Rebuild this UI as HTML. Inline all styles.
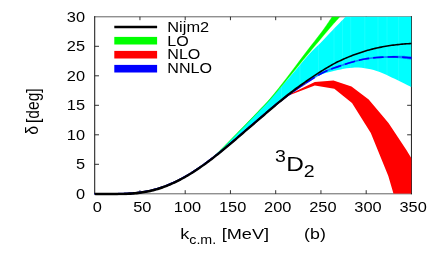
<!DOCTYPE html>
<html><head><meta charset="utf-8"><title>3D2</title>
<style>
html,body{margin:0;padding:0;background:#fff;}
body{width:436px;height:259px;overflow:hidden;}
svg{display:block;will-change:transform;opacity:0.999;font-family:"Liberation Sans",sans-serif;}
text{fill:#000;}
</style></head><body>
<svg width="436" height="259" viewBox="0 0 436 259">
<rect x="0" y="0" width="436" height="259" fill="#fff"/>
<defs><clipPath id="c"><rect x="94.70" y="16.80" width="316.75" height="177.00"/></clipPath><clipPath id="cc"><path d="M94.70,193.55 C96.37,193.56 101.37,193.59 104.70,193.60 C108.03,193.61 111.37,193.62 114.70,193.59 C118.03,193.56 121.37,193.54 124.70,193.40 C128.03,193.27 131.37,193.11 134.70,192.79 C138.03,192.47 141.37,192.07 144.70,191.48 C148.03,190.90 151.37,190.19 154.70,189.29 C158.03,188.39 161.37,187.32 164.70,186.08 C168.03,184.84 171.37,183.42 174.70,181.86 C178.03,180.29 181.37,178.55 184.70,176.67 C188.03,174.79 191.37,172.75 194.70,170.59 C198.03,168.43 201.10,166.42 204.70,163.71 C208.30,160.99 210.95,159.32 216.30,154.30 C221.65,149.28 229.90,140.63 236.80,133.60 C243.70,126.57 252.10,117.95 257.70,112.10 C263.30,106.25 265.18,104.18 270.40,98.50 C275.62,92.82 282.52,85.40 289.00,78.00 C295.48,70.60 303.90,60.10 309.30,54.10 C314.70,48.10 317.48,46.02 321.40,42.00 C325.32,37.98 328.72,34.25 332.80,30.00 C336.88,25.75 342.67,19.83 345.90,16.50 C349.13,13.17 351.15,11.08 352.20,10.00 L411.45,10.00 L411.45,87.18 C410.66,86.80 408.49,85.77 406.70,84.87 C404.91,83.97 402.70,82.80 400.70,81.78 C398.70,80.77 396.70,79.73 394.70,78.76 C392.70,77.79 390.70,76.86 388.70,75.96 C386.70,75.06 384.70,74.18 382.70,73.37 C380.70,72.56 378.70,71.77 376.70,71.10 C374.70,70.43 372.70,69.83 370.70,69.34 C368.70,68.85 366.70,68.46 364.70,68.17 C362.70,67.88 360.70,67.69 358.70,67.61 C356.70,67.53 354.70,67.56 352.70,67.68 C350.70,67.81 348.70,68.07 346.70,68.36 C344.70,68.66 342.70,69.07 340.70,69.46 C338.70,69.85 336.70,70.25 334.70,70.69 C332.70,71.14 330.70,71.59 328.70,72.14 C326.70,72.69 324.70,73.29 322.70,74.00 C320.70,74.70 318.70,75.49 316.70,76.39 C314.70,77.29 312.70,78.30 310.70,79.41 C308.70,80.51 306.70,81.76 304.70,83.04 C302.70,84.32 300.70,85.71 298.70,87.10 C296.70,88.50 294.70,89.94 292.70,91.42 C290.70,92.89 288.70,94.41 286.70,95.97 C284.70,97.52 282.70,99.13 280.70,100.76 C278.70,102.40 276.70,104.08 274.70,105.77 C272.70,107.46 270.70,109.17 268.70,110.89 C266.70,112.61 264.70,114.35 262.70,116.08 C260.70,117.80 258.70,119.52 256.70,121.23 C254.70,122.94 252.70,124.65 250.70,126.36 C248.70,128.07 246.70,129.78 244.70,131.50 C242.70,133.23 240.70,134.97 238.70,136.69 C236.70,138.42 234.70,140.15 232.70,141.85 C230.70,143.56 228.70,145.25 226.70,146.92 C224.70,148.59 222.70,150.25 220.70,151.87 C218.70,153.49 216.70,155.09 214.70,156.66 C212.70,158.22 210.70,159.76 208.70,161.26 C206.70,162.76 204.70,164.22 202.70,165.64 C200.70,167.06 198.70,168.44 196.70,169.77 C194.70,171.10 192.70,172.39 190.70,173.62 C188.70,174.86 186.70,176.04 184.70,177.17 C182.70,178.30 180.70,179.37 178.70,180.39 C176.70,181.41 174.70,182.38 172.70,183.28 C170.70,184.18 168.70,185.03 166.70,185.82 C164.70,186.60 162.70,187.33 160.70,187.99 C158.70,188.66 156.70,189.25 154.70,189.79 C152.70,190.33 150.70,190.80 148.70,191.22 C146.70,191.64 144.70,192.00 142.70,192.31 C140.70,192.62 138.70,192.88 136.70,193.09 C134.70,193.31 132.70,193.47 130.70,193.60 C128.70,193.74 126.70,193.83 124.70,193.90 C122.70,193.98 120.70,194.02 118.70,194.05 C116.70,194.08 114.70,194.09 112.70,194.10 C110.70,194.11 108.70,194.11 106.70,194.10 C104.70,194.10 102.70,194.09 100.70,194.08 C98.70,194.07 95.70,194.06 94.70,194.05 Z"/></clipPath><clipPath id="c2"><rect x="94.20" y="16.80" width="317.75" height="178.80"/></clipPath></defs>
<path d="M139.95,193.80 v-3.6 M139.95,16.80 v3.4 M185.20,193.80 v-3.6 M185.20,16.80 v3.4 M230.45,193.80 v-3.6 M230.45,16.80 v3.4 M275.70,193.80 v-3.6 M275.70,16.80 v3.4 M320.95,193.80 v-3.6 M320.95,16.80 v3.4 M366.20,193.80 v-3.6 M366.20,16.80 v3.4 M94.70,164.30 h4.3 M411.45,164.30 h-4.3 M94.70,134.80 h4.3 M411.45,134.80 h-4.3 M94.70,105.30 h4.3 M411.45,105.30 h-4.3 M94.70,75.80 h4.3 M411.45,75.80 h-4.3 M94.70,46.30 h4.3 M411.45,46.30 h-4.3 " stroke="#333" stroke-width="1" fill="none"/>
<path d="M94.70,16.30 V194.30" stroke="#1c1c1c" stroke-width="1.05" fill="none"/>
<path d="M411.45,16.30 V194.30" stroke="#262626" stroke-width="1.05" fill="none"/>
<path d="M94.20,16.80 H411.95 M94.20,193.80 H411.95" stroke="#000" stroke-opacity="0.62" stroke-width="1" fill="none"/>
<g clip-path="url(#c)">
<path d="M94.70,193.55 C96.37,193.56 101.37,193.59 104.70,193.60 C108.03,193.61 111.37,193.62 114.70,193.59 C118.03,193.56 121.37,193.54 124.70,193.40 C128.03,193.27 131.37,193.11 134.70,192.79 C138.03,192.47 141.37,192.07 144.70,191.48 C148.03,190.90 151.37,190.19 154.70,189.29 C158.03,188.39 161.37,187.32 164.70,186.08 C168.03,184.84 171.37,183.42 174.70,181.86 C178.03,180.29 181.37,178.55 184.70,176.67 C188.03,174.79 191.37,172.75 194.70,170.59 C198.03,168.43 201.10,166.42 204.70,163.71 C208.30,160.99 210.95,159.32 216.30,154.30 C221.65,149.28 229.90,140.63 236.80,133.60 C243.70,126.57 252.10,117.95 257.70,112.10 C263.30,106.25 265.18,104.18 270.40,98.50 C275.62,92.82 282.52,85.40 289.00,78.00 C295.48,70.60 303.90,60.10 309.30,54.10 C314.70,48.10 317.48,46.02 321.40,42.00 C325.32,37.98 328.72,34.25 332.80,30.00 C336.88,25.75 342.67,19.83 345.90,16.50 C349.13,13.17 351.15,11.08 352.20,10.00 L411.45,10.00 L411.45,87.18 C410.66,86.80 408.49,85.77 406.70,84.87 C404.91,83.97 402.70,82.80 400.70,81.78 C398.70,80.77 396.70,79.73 394.70,78.76 C392.70,77.79 390.70,76.86 388.70,75.96 C386.70,75.06 384.70,74.18 382.70,73.37 C380.70,72.56 378.70,71.77 376.70,71.10 C374.70,70.43 372.70,69.83 370.70,69.34 C368.70,68.85 366.70,68.46 364.70,68.17 C362.70,67.88 360.70,67.69 358.70,67.61 C356.70,67.53 354.70,67.56 352.70,67.68 C350.70,67.81 348.70,68.07 346.70,68.36 C344.70,68.66 342.70,69.07 340.70,69.46 C338.70,69.85 336.70,70.25 334.70,70.69 C332.70,71.14 330.70,71.59 328.70,72.14 C326.70,72.69 324.70,73.29 322.70,74.00 C320.70,74.70 318.70,75.49 316.70,76.39 C314.70,77.29 312.70,78.30 310.70,79.41 C308.70,80.51 306.70,81.76 304.70,83.04 C302.70,84.32 300.70,85.71 298.70,87.10 C296.70,88.50 294.70,89.94 292.70,91.42 C290.70,92.89 288.70,94.41 286.70,95.97 C284.70,97.52 282.70,99.13 280.70,100.76 C278.70,102.40 276.70,104.08 274.70,105.77 C272.70,107.46 270.70,109.17 268.70,110.89 C266.70,112.61 264.70,114.35 262.70,116.08 C260.70,117.80 258.70,119.52 256.70,121.23 C254.70,122.94 252.70,124.65 250.70,126.36 C248.70,128.07 246.70,129.78 244.70,131.50 C242.70,133.23 240.70,134.97 238.70,136.69 C236.70,138.42 234.70,140.15 232.70,141.85 C230.70,143.56 228.70,145.25 226.70,146.92 C224.70,148.59 222.70,150.25 220.70,151.87 C218.70,153.49 216.70,155.09 214.70,156.66 C212.70,158.22 210.70,159.76 208.70,161.26 C206.70,162.76 204.70,164.22 202.70,165.64 C200.70,167.06 198.70,168.44 196.70,169.77 C194.70,171.10 192.70,172.39 190.70,173.62 C188.70,174.86 186.70,176.04 184.70,177.17 C182.70,178.30 180.70,179.37 178.70,180.39 C176.70,181.41 174.70,182.38 172.70,183.28 C170.70,184.18 168.70,185.03 166.70,185.82 C164.70,186.60 162.70,187.33 160.70,187.99 C158.70,188.66 156.70,189.25 154.70,189.79 C152.70,190.33 150.70,190.80 148.70,191.22 C146.70,191.64 144.70,192.00 142.70,192.31 C140.70,192.62 138.70,192.88 136.70,193.09 C134.70,193.31 132.70,193.47 130.70,193.60 C128.70,193.74 126.70,193.83 124.70,193.90 C122.70,193.98 120.70,194.02 118.70,194.05 C116.70,194.08 114.70,194.09 112.70,194.10 C110.70,194.11 108.70,194.11 106.70,194.10 C104.70,194.10 102.70,194.09 100.70,194.08 C98.70,194.07 95.70,194.06 94.70,194.05 Z" fill="#00ffff"/>
<path d="M281.5,16.8 V193.8 M300.0,16.8 V193.8 M318.5,16.8 V193.8 M334.0,16.8 V193.8 M342.5,16.8 V193.8 M350.7,16.8 V193.8 M364.8,16.8 V193.8 M378.0,16.8 V193.8 M387.0,16.8 V193.8 M398.6,16.8 V193.8" stroke="#fff" stroke-opacity="0.14" stroke-width="0.7" fill="none" clip-path="url(#cc)"/>
<path d="M196.00,169.74 C197.67,168.57 202.62,165.30 206.00,162.71 C209.38,160.12 211.17,159.08 216.30,154.20 C221.43,149.32 229.90,140.45 236.80,133.40 C243.70,126.35 252.10,117.75 257.70,111.90 C263.30,106.05 265.58,103.95 270.40,98.30 C275.22,92.65 280.90,85.37 286.60,78.00 C292.30,70.63 298.52,62.10 304.60,54.10 C310.68,46.10 318.48,36.27 323.10,30.00 C327.72,23.73 330.05,19.83 332.30,16.50 C334.55,13.17 335.88,11.08 336.60,10.00 L346.00,10.00 C345.02,11.08 343.07,13.17 340.10,16.50 C337.13,19.83 333.53,23.73 328.20,30.00 C322.87,36.27 314.73,46.10 308.10,54.10 C301.47,62.10 294.53,70.63 288.40,78.00 C282.27,85.37 276.30,92.65 271.30,98.30 C266.30,103.95 264.07,106.05 258.40,111.90 C252.73,117.75 244.28,126.35 237.30,133.40 C230.32,140.45 221.72,149.31 216.50,154.20 C211.28,159.09 209.42,160.17 206.00,162.76 C202.58,165.35 197.67,168.57 196.00,169.74 Z" fill="#00ff00" stroke="#00ff00" stroke-width="0.35"/>
<path d="M264.00,114.15 L276.40,103.94 L288.00,95.06 L314.80,81.90 L333.50,80.60 L351.50,86.50 L368.70,99.40 L388.50,123.00 L406.40,150.10 L411.70,158.80 L411.45,193.80 L393.50,193.80 L388.30,176.00 L370.80,133.10 L352.00,103.10 L334.30,88.80 L314.80,85.50 L288.00,95.86 L276.40,104.44 L264.00,114.45 Z" fill="#ff0000"/>
</g>
<g clip-path="url(#c2)">
<path d="M94.70,193.85 C95.70,193.85 98.70,193.87 100.70,193.87 C102.70,193.88 104.70,193.89 106.70,193.89 C108.70,193.89 110.70,193.89 112.70,193.88 C114.70,193.86 116.70,193.85 118.70,193.82 C120.70,193.78 122.70,193.74 124.70,193.66 C126.70,193.58 128.70,193.49 130.70,193.35 C132.70,193.21 134.70,193.05 136.70,192.83 C138.70,192.62 140.70,192.36 142.70,192.05 C144.70,191.73 146.70,191.37 148.70,190.95 C150.70,190.53 152.70,190.06 154.70,189.52 C156.70,188.98 158.70,188.37 160.70,187.71 C162.70,187.05 164.70,186.32 166.70,185.53 C168.70,184.74 170.70,183.89 172.70,182.99 C174.70,182.08 176.70,181.12 178.70,180.10 C180.70,179.08 182.70,178.00 184.70,176.87 C186.70,175.74 188.70,174.56 190.70,173.33 C192.70,172.09 194.70,170.80 196.70,169.47 C198.70,168.14 200.70,166.76 202.70,165.34 C204.70,163.92 206.70,162.46 208.70,160.96 C210.70,159.46 212.70,157.92 214.70,156.36 C216.70,154.79 218.70,153.19 220.70,151.57 C222.70,149.95 224.70,148.29 226.70,146.62 C228.70,144.95 230.70,143.26 232.70,141.55 C234.70,139.85 236.70,138.12 238.70,136.39 C240.70,134.67 242.70,132.93 244.70,131.20 C246.70,129.48 248.70,127.77 250.70,126.06 C252.70,124.35 254.70,122.64 256.70,120.93 C258.70,119.22 260.70,117.50 262.70,115.78 C264.70,114.05 266.70,112.29 268.70,110.59 C270.70,108.89 272.70,107.20 274.70,105.56 C276.70,103.93 278.70,102.35 280.70,100.79 C282.70,99.23 284.70,97.71 286.70,96.22 C288.70,94.72 290.70,93.25 292.70,91.82 C294.70,90.38 296.70,88.94 298.70,87.60 C300.70,86.26 302.70,85.04 304.70,83.78 C306.70,82.51 308.70,81.28 310.70,80.01 C312.70,78.74 314.70,77.37 316.70,76.17 C318.70,74.96 320.70,73.82 322.70,72.78 C324.70,71.74 326.70,70.76 328.70,69.92 C330.70,69.08 332.70,68.45 334.70,67.75 C336.70,67.05 338.70,66.39 340.70,65.72 C342.70,65.05 344.70,64.36 346.70,63.73 C348.70,63.10 350.70,62.50 352.70,61.94 C354.70,61.38 356.70,60.85 358.70,60.37 C360.70,59.89 362.70,59.44 364.70,59.07 C366.70,58.70 368.70,58.40 370.70,58.15 C372.70,57.90 374.70,57.73 376.70,57.56 C378.70,57.40 380.70,57.28 382.70,57.17 C384.70,57.07 386.70,56.98 388.70,56.93 C390.70,56.88 392.70,56.85 394.70,56.88 C396.70,56.90 398.70,56.96 400.70,57.07 C402.70,57.17 404.91,57.35 406.70,57.51 C408.49,57.66 410.66,57.93 411.45,58.01" fill="none" stroke="#0000ff" stroke-width="1.9" opacity="0.2"/>
<path d="M94.70,193.85 L94.99,193.85 L95.35,193.85 L95.78,193.85 L96.26,193.86 L96.77,193.86 L97.33,193.86 L97.90,193.86 L98.48,193.86 L99.06,193.87 L99.63,193.87 L100.18,193.87 L100.70,193.87 L101.20,193.87 L101.70,193.87 L102.20,193.88 L102.70,193.88 L103.20,193.88 L103.70,193.88 L104.20,193.88 L104.70,193.88 L105.20,193.88 L105.70,193.89 L106.20,193.89 L106.70,193.89 L107.20,193.89 L107.70,193.89 L108.20,193.89 L108.70,193.89 L109.20,193.89 L109.70,193.89 L110.20,193.88 L110.70,193.88 L111.20,193.88 L111.70,193.88 L112.20,193.88 L112.70,193.88 L113.20,193.87 L113.70,193.87 L114.20,193.87 L114.70,193.86 L115.20,193.86 L115.70,193.85 L116.20,193.85 L116.70,193.84 L117.20,193.84 L117.70,193.83 L118.20,193.82 L118.70,193.82 L119.20,193.81 L119.70,193.80 L120.20,193.79 L120.70,193.78 L121.20,193.77 L121.70,193.75 L122.20,193.74 L122.70,193.73 L123.20,193.71 L123.70,193.70 L124.20,193.68 L124.70,193.66 L125.20,193.64 L125.70,193.62 L126.20,193.60 L126.70,193.58 L127.20,193.55 L127.70,193.53 L128.20,193.50 L128.70,193.48 L129.20,193.45 L129.70,193.42 L130.20,193.39 L130.70,193.35 L131.20,193.32 L131.70,193.28 L132.20,193.24 L132.70,193.21 L133.20,193.16 L133.70,193.12 L134.20,193.08 L134.70,193.03 L135.20,192.99 L135.70,192.94 L136.20,192.89 L136.70,192.83 L137.20,192.78 L137.70,192.72 L138.20,192.66 L138.70,192.60 L139.20,192.54 L139.70,192.48 L140.20,192.41 L140.70,192.34 L141.20,192.27 L141.70,192.20 L142.20,192.12 L142.70,192.05 L143.20,191.97 L143.70,191.88 L144.20,191.80 L144.70,191.72 L145.20,191.63 L145.70,191.54 L146.20,191.45 L146.70,191.35 L147.20,191.26 L147.70,191.16 L148.20,191.05 L148.70,190.95 L149.20,190.84 L149.70,190.74 L150.20,190.62 L150.70,190.51 L151.20,190.40 L151.70,190.28 L152.20,190.16 L152.70,190.03 L153.20,189.91 L153.70,189.78 L154.20,189.65 L154.70,189.52 L155.20,189.38 L155.70,189.24 L156.20,189.10 L156.70,188.96 L157.20,188.81 L157.70,188.66 L158.20,188.51 L158.70,188.35 L159.20,188.20 L159.70,188.04 L160.20,187.88 L160.70,187.71 L161.20,187.54 L161.70,187.37 L162.20,187.20 L162.70,187.02 L163.20,186.85 L163.70,186.67 L164.20,186.48 L164.70,186.30 L165.20,186.11 L165.70,185.92 L166.20,185.73 L166.70,185.53 L167.20,185.33 L167.70,185.13 L168.20,184.93 L168.70,184.72 L169.20,184.51 L169.70,184.30 L170.20,184.09 L170.70,183.87 L171.20,183.66 L171.70,183.44 L172.20,183.21 L172.70,182.99 L173.20,182.76 L173.70,182.53 L174.20,182.30 L174.70,182.06 L175.20,181.83 L175.70,181.59 L176.20,181.34 L176.70,181.10 L177.20,180.85 L177.70,180.60 L178.20,180.35 L178.70,180.10 L179.20,179.84 L179.70,179.58 L180.20,179.32 L180.70,179.06 L181.20,178.79 L181.70,178.53 L182.20,178.26 L182.70,177.98 L183.20,177.71 L183.70,177.43 L184.20,177.15 L184.70,176.87 L185.20,176.59 L185.70,176.30 L186.20,176.02 L186.70,175.73 L187.20,175.43 L187.70,175.14 L188.20,174.84 L188.70,174.54 L189.20,174.24 L189.70,173.94 L190.20,173.63 L190.70,173.33 L191.20,173.02 L191.70,172.70 L192.20,172.39 L192.70,172.07 L193.20,171.76 L193.70,171.44 L194.20,171.11 L194.70,170.79 L195.20,170.46 L195.70,170.14 L196.20,169.81 L196.70,169.47 L197.20,169.14 L197.70,168.80 L198.20,168.47 L198.70,168.13 L199.20,167.78 L199.70,167.44 L200.20,167.09 L200.70,166.75 L201.20,166.40 L201.70,166.05 L202.20,165.70 L202.70,165.34 L203.20,164.99 L203.70,164.63 L204.20,164.27 L204.70,163.91 L205.20,163.54 L205.70,163.18 L206.20,162.81 L206.70,162.44 L207.20,162.08 L207.70,161.70 L208.20,161.33 L208.70,160.96 L209.20,160.58 L209.70,160.21 L210.20,159.83 L210.70,159.45 L211.20,159.07 L211.70,158.68 L212.20,158.30 L212.70,157.91 L213.20,157.53 L213.70,157.14 L214.20,156.75 L214.70,156.36 L215.20,155.96 L215.70,155.57 L216.20,155.18 L216.70,154.78 L217.20,154.38 L217.70,153.98 L218.20,153.58 L218.70,153.18 L219.20,152.78 L219.70,152.38 L220.20,151.97 L220.70,151.57 L221.20,151.16 L221.70,150.75 L222.20,150.35 L222.70,149.94 L223.20,149.52 L223.70,149.11 L224.20,148.70 L224.70,148.29 L225.20,147.87 L225.70,147.46 L226.20,147.04 L226.70,146.62 L227.20,146.21 L227.70,145.79 L228.20,145.37 L228.70,144.95 L229.20,144.52 L229.70,144.10 L230.20,143.68 L230.70,143.26 L231.20,142.83 L231.70,142.41 L232.20,141.98 L232.70,141.55 L233.20,141.13 L233.70,140.70 L234.20,140.27 L234.70,139.84 L235.20,139.41 L235.70,138.98 L236.20,138.55 L236.70,138.12 L237.20,137.69 L237.70,137.26 L238.20,136.82 L238.70,136.39 L239.20,135.96 L239.70,135.53 L240.20,135.10 L240.70,134.66 L241.20,134.23 L241.70,133.80 L242.20,133.36 L242.70,132.93 L243.20,132.50 L243.70,132.07 L244.20,131.63 L244.70,131.20 L245.20,130.77 L245.70,130.34 L246.20,129.91 L246.70,129.49 L247.20,129.06 L247.70,128.63 L248.20,128.20 L248.70,127.77 L249.20,127.34 L249.70,126.92 L250.20,126.49 L250.70,126.06 L251.20,125.63 L251.70,125.21 L252.20,124.78 L252.70,124.35 L253.20,123.92 L253.70,123.50 L254.20,123.07 L254.70,122.64 L255.20,122.21 L255.70,121.79 L256.20,121.36 L256.70,120.93 L257.20,120.50 L257.70,120.07 L258.20,119.64 L258.70,119.22 L259.20,118.79 L259.70,118.36 L260.20,117.93 L260.70,117.50 L261.20,117.07 L261.70,116.64 L262.20,116.21 L262.70,115.78 L263.20,115.34 L263.70,114.91 L264.20,114.48 L264.70,114.04 L265.20,113.61 L265.70,113.17 L266.20,112.74 L266.70,112.31 L267.20,111.87 L267.70,111.44 L268.20,111.01 L268.70,110.59 L269.20,110.16 L269.70,109.74 L270.20,109.31 L270.70,108.89 L271.20,108.47 L271.70,108.05 L272.20,107.63 L272.70,107.21 L273.20,106.80 L273.70,106.38 L274.20,105.97 L274.70,105.56 L275.20,105.16 L275.70,104.75 L276.20,104.35 L276.70,103.95 L277.20,103.55 L277.70,103.15 L278.20,102.75 L278.70,102.36 L279.20,101.96 L279.70,101.57 L280.20,101.18 L280.70,100.79 L281.20,100.40 L281.70,100.01 L282.20,99.63 L282.70,99.24 L283.20,98.86 L283.70,98.48 L284.20,98.10 L284.70,97.72 L285.20,97.34 L285.70,96.97 L286.20,96.59 L286.70,96.22 L287.20,95.84 L287.70,95.47 L288.20,95.10 L288.70,94.73 L289.20,94.36 L289.70,94.00 L290.20,93.63 L290.70,93.26 L291.20,92.90 L291.70,92.54 L292.20,92.18 L292.70,91.82 L293.20,91.46 L293.70,91.10 L294.20,90.74 L294.70,90.38 L295.20,90.03 L295.70,89.67 L296.20,89.32 L296.70,88.97 L297.20,88.62 L297.70,88.27 L298.20,87.93 L298.70,87.60 L299.20,87.26 L299.70,86.94 L300.20,86.61 L300.70,86.29 L301.20,85.97 L301.70,85.66 L302.20,85.35 L302.70,85.03 L303.20,84.72 L303.70,84.41 L304.20,84.09 L304.70,83.78 L305.20,83.46 L305.70,83.15" fill="none" stroke="#0000a0" stroke-width="1.9" opacity="0.75"/>
<path d="M300.20,85.91 L300.70,85.59 L301.20,85.27 L301.70,84.96 L302.20,84.65 L302.70,84.33 L303.20,84.02 L303.70,83.71 L304.20,83.39 L304.70,83.08 L305.20,82.76 L305.70,82.45 L306.20,82.13 L306.70,81.82 L307.20,81.51 L307.70,81.20 L308.20,80.88 L308.70,80.57 L309.20,80.26 L309.70,79.94 L310.20,79.63 L310.70,79.31 L311.20,78.99 L311.70,78.67 L312.20,78.35 L312.70,78.02 L313.20,77.69 L313.70,77.37 L314.20,77.04 L314.70,76.72 L315.20,76.40 L315.70,76.08 L316.20,75.77 L316.70,75.47 L317.20,75.17 L317.70,74.87 L318.20,74.58 L318.70,74.28 L319.20,74.00 L319.70,73.71 L320.20,73.43 L320.70,73.15 L321.20,72.88 L321.70,72.61 L322.20,72.34 L322.70,72.08 L323.20,71.82 L323.70,71.56 L324.20,71.31 L324.70,71.06 L325.20,70.81 L325.70,70.57 L326.20,70.34 L326.70,70.10 L327.20,69.87 L327.70,69.65 L328.20,69.43 L328.70,69.22 L329.20,69.01 L329.70,68.82 L330.20,68.63 L330.70,68.44 L331.20,68.26 L331.70,68.08 L332.20,67.91 L332.70,67.74 L333.20,67.56 L333.70,67.39 L334.20,67.22 L334.70,67.05 L335.20,66.87 L335.70,66.70 L336.20,66.53 L336.70,66.36 L337.20,66.19 L337.70,66.02 L338.20,65.86 L338.70,65.69 L339.20,65.52 L339.70,65.36 L340.20,65.19 L340.70,65.02 L341.20,64.86 L341.70,64.69 L342.20,64.52 L342.70,64.35 L343.20,64.18 L343.70,64.01 L344.20,63.84 L344.70,63.67 L345.20,63.51 L345.70,63.35 L346.20,63.18 L346.70,63.03 L347.20,62.87 L347.70,62.71 L348.20,62.56 L348.70,62.41 L349.20,62.26 L349.70,62.11 L350.20,61.96 L350.70,61.81 L351.20,61.67 L351.70,61.53 L352.20,61.38 L352.70,61.24 L353.20,61.10 L353.70,60.97 L354.20,60.83 L354.70,60.69 L355.20,60.56 L355.70,60.43 L356.20,60.30 L356.70,60.17 L357.20,60.04 L357.70,59.92 L358.20,59.79 L358.70,59.67 L359.20,59.55 L359.70,59.44 L360.20,59.32 L360.70,59.20 L361.20,59.09 L361.70,58.98 L362.20,58.87 L362.70,58.77 L363.20,58.67 L363.70,58.56 L364.20,58.47 L364.70,58.37 L365.20,58.28 L365.70,58.19 L366.20,58.11 L366.70,58.02 L367.20,57.94 L367.70,57.87 L368.20,57.79 L368.70,57.72 L369.20,57.65 L369.70,57.58 L370.20,57.51 L370.70,57.45 L371.20,57.39 L371.70,57.33 L372.20,57.27 L372.70,57.22 L373.20,57.17 L373.70,57.12 L374.20,57.08 L374.70,57.03 L375.20,56.99 L375.70,56.94 L376.20,56.90 L376.70,56.86 L377.20,56.82 L377.70,56.78 L378.20,56.75 L378.70,56.71 L379.20,56.68 L379.70,56.65 L380.20,56.61 L380.70,56.58 L381.20,56.55 L381.70,56.53 L382.20,56.50 L382.70,56.47 L383.20,56.45 L383.70,56.42 L384.20,56.40 L384.70,56.37 L385.20,56.34 L385.70,56.30 L386.20,56.26 L386.70,56.22 L387.20,56.18 L387.70,56.15 L388.20,56.11 L388.70,56.08 L389.20,56.05 L389.70,56.02 L390.20,55.99 L390.70,55.96 L391.20,55.93 L391.70,55.91 L392.20,55.88 L392.70,55.86 L393.20,55.84 L393.70,55.82 L394.20,55.81 L394.70,55.79 L395.20,55.78 L395.70,55.77 L396.20,55.76 L396.70,55.75 L397.20,55.74 L397.70,55.74 L398.20,55.73 L398.70,55.73 L399.20,55.73 L399.70,55.74 L400.20,55.74 L400.70,55.74 L401.20,55.75 L401.71,55.76 L402.23,55.77 L402.75,55.79 L403.26,55.81 L403.78,55.82 L404.29,55.84 L404.79,55.86 L405.29,55.88 L405.77,55.90 L406.24,55.93 L406.70,55.95 L407.15,55.97 L407.62,56.00 L408.09,56.03 L408.55,56.06 L409.01,56.09 L409.45,56.12 L409.87,56.15 L410.26,56.18 L410.63,56.20 L410.95,56.23 L411.22,56.25 L411.45,56.26 L411.45,59.76 L411.22,59.73 L410.95,59.68 L410.63,59.63 L410.26,59.58 L409.87,59.52 L409.45,59.46 L409.01,59.39 L408.55,59.32 L408.09,59.25 L407.62,59.19 L407.15,59.13 L406.70,59.07 L406.24,59.01 L405.77,58.95 L405.29,58.89 L404.79,58.83 L404.29,58.77 L403.78,58.71 L403.26,58.65 L402.75,58.60 L402.23,58.54 L401.71,58.49 L401.20,58.44 L400.70,58.39 L400.20,58.34 L399.70,58.30 L399.20,58.26 L398.70,58.22 L398.20,58.18 L397.70,58.14 L397.20,58.11 L396.70,58.08 L396.20,58.04 L395.70,58.01 L395.20,57.99 L394.70,57.96 L394.20,57.94 L393.70,57.91 L393.20,57.89 L392.70,57.87 L392.20,57.85 L391.70,57.84 L391.20,57.82 L390.70,57.81 L390.20,57.80 L389.70,57.79 L389.20,57.78 L388.70,57.77 L388.20,57.77 L387.70,57.76 L387.20,57.76 L386.70,57.76 L386.20,57.75 L385.70,57.76 L385.20,57.76 L384.70,57.77 L384.20,57.80 L383.70,57.82 L383.20,57.85 L382.70,57.87 L382.20,57.90 L381.70,57.93 L381.20,57.95 L380.70,57.98 L380.20,58.01 L379.70,58.05 L379.20,58.08 L378.70,58.11 L378.20,58.15 L377.70,58.18 L377.20,58.22 L376.70,58.26 L376.20,58.30 L375.70,58.34 L375.20,58.39 L374.70,58.43 L374.20,58.48 L373.70,58.52 L373.20,58.57 L372.70,58.62 L372.20,58.67 L371.70,58.73 L371.20,58.79 L370.70,58.85 L370.20,58.91 L369.70,58.98 L369.20,59.05 L368.70,59.12 L368.20,59.19 L367.70,59.27 L367.20,59.34 L366.70,59.42 L366.20,59.51 L365.70,59.59 L365.20,59.68 L364.70,59.77 L364.20,59.87 L363.70,59.96 L363.20,60.07 L362.70,60.17 L362.20,60.27 L361.70,60.38 L361.20,60.49 L360.70,60.60 L360.20,60.72 L359.70,60.84 L359.20,60.95 L358.70,61.07 L358.20,61.19 L357.70,61.32 L357.20,61.44 L356.70,61.57 L356.20,61.70 L355.70,61.83 L355.20,61.96 L354.70,62.09 L354.20,62.23 L353.70,62.37 L353.20,62.50 L352.70,62.64 L352.20,62.78 L351.70,62.93 L351.20,63.07 L350.70,63.21 L350.20,63.36 L349.70,63.51 L349.20,63.66 L348.70,63.81 L348.20,63.96 L347.70,64.11 L347.20,64.27 L346.70,64.43 L346.20,64.58 L345.70,64.75 L345.20,64.91 L344.70,65.07 L344.20,65.24 L343.70,65.41 L343.20,65.58 L342.70,65.75 L342.20,65.92 L341.70,66.09 L341.20,66.26 L340.70,66.42 L340.20,66.59 L339.70,66.76 L339.20,66.92 L338.70,67.09 L338.20,67.26 L337.70,67.42 L337.20,67.59 L336.70,67.76 L336.20,67.93 L335.70,68.10 L335.20,68.27 L334.70,68.45 L334.20,68.62 L333.70,68.79 L333.20,68.96 L332.70,69.14 L332.20,69.31 L331.70,69.48 L331.20,69.66 L330.70,69.84 L330.20,70.03 L329.70,70.22 L329.20,70.41 L328.70,70.62 L328.20,70.83 L327.70,71.05 L327.20,71.27 L326.70,71.50 L326.20,71.74 L325.70,71.97 L325.20,72.21 L324.70,72.46 L324.20,72.71 L323.70,72.96 L323.20,73.22 L322.70,73.48 L322.20,73.74 L321.70,74.01 L321.20,74.28 L320.70,74.55 L320.20,74.83 L319.70,75.11 L319.20,75.40 L318.70,75.68 L318.20,75.98 L317.70,76.27 L317.20,76.57 L316.70,76.87 L316.20,77.17 L315.70,77.48 L315.20,77.80 L314.70,78.12 L314.20,78.44 L313.70,78.77 L313.20,79.09 L312.70,79.42 L312.20,79.75 L311.70,80.07 L311.20,80.39 L310.70,80.71 L310.20,81.03 L309.70,81.34 L309.20,81.66 L308.70,81.97 L308.20,82.28 L307.70,82.60 L307.20,82.91 L306.70,83.22 L306.20,83.53 L305.70,83.85 L305.20,84.16 L304.70,84.48 L304.20,84.79 L303.70,85.11 L303.20,85.42 L302.70,85.73 L302.20,86.05 L301.70,86.36 L301.20,86.67 L300.70,86.99 L300.20,87.31 Z" fill="#0000ff" opacity="0.35"/>
<path d="M94.70,193.85 C95.70,193.85 98.70,193.87 100.70,193.87 C102.70,193.88 104.70,193.89 106.70,193.89 C108.70,193.89 110.70,193.89 112.70,193.88 C114.70,193.86 116.70,193.85 118.70,193.82 C120.70,193.78 122.70,193.74 124.70,193.66 C126.70,193.58 128.70,193.49 130.70,193.35 C132.70,193.21 134.70,193.05 136.70,192.83 C138.70,192.62 140.70,192.36 142.70,192.05 C144.70,191.73 146.70,191.37 148.70,190.95 C150.70,190.53 152.70,190.06 154.70,189.52 C156.70,188.98 158.70,188.37 160.70,187.71 C162.70,187.05 164.70,186.32 166.70,185.53 C168.70,184.74 170.70,183.89 172.70,182.99 C174.70,182.08 176.70,181.12 178.70,180.10 C180.70,179.08 182.70,178.00 184.70,176.87 C186.70,175.74 188.70,174.56 190.70,173.33 C192.70,172.09 194.70,170.80 196.70,169.47 C198.70,168.14 200.70,166.76 202.70,165.34 C204.70,163.92 206.70,162.46 208.70,160.96 C210.70,159.46 212.70,157.92 214.70,156.36 C216.70,154.79 218.70,153.19 220.70,151.57 C222.70,149.95 224.70,148.29 226.70,146.62 C228.70,144.95 230.70,143.26 232.70,141.55 C234.70,139.85 236.70,138.12 238.70,136.39 C240.70,134.67 242.70,132.93 244.70,131.20 C246.70,129.48 248.70,127.77 250.70,126.06 C252.70,124.35 254.70,122.64 256.70,120.93 C258.70,119.22 260.70,117.50 262.70,115.78 C264.70,114.05 266.70,112.29 268.70,110.59 C270.70,108.89 272.70,107.20 274.70,105.56 C276.70,103.93 278.70,102.35 280.70,100.79 C282.70,99.23 284.70,97.71 286.70,96.22 C288.70,94.72 290.70,93.25 292.70,91.82 C294.70,90.38 296.70,88.94 298.70,87.60 C300.70,86.26 302.70,85.04 304.70,83.78 C306.70,82.51 308.70,81.28 310.70,80.01 C312.70,78.74 314.70,77.37 316.70,76.17 C318.70,74.96 320.70,73.82 322.70,72.78 C324.70,71.74 326.70,70.76 328.70,69.92 C330.70,69.08 332.70,68.45 334.70,67.75 C336.70,67.05 338.70,66.39 340.70,65.72 C342.70,65.05 344.70,64.36 346.70,63.73 C348.70,63.10 350.70,62.50 352.70,61.94 C354.70,61.38 356.70,60.85 358.70,60.37 C360.70,59.89 362.70,59.44 364.70,59.07 C366.70,58.70 368.70,58.40 370.70,58.15 C372.70,57.90 374.70,57.73 376.70,57.56 C378.70,57.40 380.70,57.28 382.70,57.17 C384.70,57.07 386.70,56.98 388.70,56.93 C390.70,56.88 392.70,56.85 394.70,56.88 C396.70,56.90 398.70,56.96 400.70,57.07 C402.70,57.17 404.91,57.35 406.70,57.51 C408.49,57.66 410.66,57.93 411.45,58.01" fill="none" stroke="#0000ff" stroke-width="1.6" stroke-dasharray="10.5 4"/>
<path d="M94.69,195.37 L96.19,195.38 L97.69,195.39 L99.19,195.40 L100.69,195.41 L102.19,195.41 L103.69,195.42 L105.20,195.42 L106.70,195.43 L108.20,195.43 L109.70,195.43 L111.20,195.43 L112.71,195.43 L114.21,195.42 L115.71,195.41 L117.22,195.39 L118.72,195.37 L120.23,195.35 L121.73,195.32 L123.24,195.28 L124.75,195.23 L126.26,195.17 L127.77,195.10 L129.28,195.02 L130.79,194.93 L132.30,194.82 L133.81,194.70 L135.33,194.56 L136.84,194.41 L138.36,194.24 L139.87,194.05 L141.39,193.84 L142.90,193.61 L144.42,193.36 L145.93,193.09 L147.45,192.80 L148.96,192.49 L150.48,192.15 L152.00,191.80 L153.51,191.42 L155.03,191.02 L156.54,190.59 L158.06,190.14 L159.58,189.67 L161.09,189.17 L162.61,188.65 L164.12,188.11 L165.63,187.54 L167.15,186.95 L168.66,186.34 L170.17,185.70 L171.68,185.05 L173.19,184.37 L174.70,183.67 L176.21,182.94 L177.72,182.20 L179.23,181.44 L180.74,180.65 L182.25,179.84 L183.76,179.02 L185.26,178.17 L186.77,177.30 L188.28,176.41 L189.78,175.51 L191.29,174.58 L192.80,173.64 L194.31,172.68 L195.82,171.71 L197.32,170.71 L198.83,169.70 L200.34,168.67 L201.85,167.62 L203.35,166.56 L204.86,165.48 L206.36,164.39 L207.87,163.28 L209.37,162.16 L210.88,161.02 L212.38,159.88 L213.89,158.71 L215.39,157.54 L216.90,156.36 L218.40,155.16 L219.91,153.96 L221.41,152.74 L222.91,151.52 L224.42,150.28 L225.92,149.04 L227.42,147.79 L228.92,146.53 L230.43,145.26 L231.93,143.99 L233.43,142.71 L234.93,141.43 L236.43,140.14 L237.94,138.84 L239.44,137.54 L240.94,136.24 L242.44,134.94 L243.93,133.65 L245.43,132.36 L246.93,131.07 L248.43,129.78 L249.93,128.50 L251.43,127.22 L252.93,125.93 L254.43,124.65 L255.93,123.37 L257.43,122.09 L258.93,120.80 L260.43,119.51 L261.93,118.22 L263.44,116.93 L264.94,115.63 L266.44,114.33 L267.94,113.03 L269.43,111.74 L270.93,110.45 L272.43,109.17 L273.93,107.90 L275.43,106.63 L276.92,105.37 L278.42,104.11 L279.92,102.87 L281.42,101.63 L282.91,100.40 L284.41,99.18 L285.90,97.97 L287.39,96.75 L288.87,95.55 L290.36,94.36 L291.84,93.17 L293.32,92.00 L294.81,90.84 L296.29,89.70 L297.78,88.56 L299.26,87.44 L300.75,86.33 L302.23,85.23 L303.72,84.13 L305.20,83.05 L306.69,81.97 L308.18,80.90 L309.66,79.84 L311.15,78.81 L312.65,77.79 L314.14,76.78 L315.64,75.79 L317.14,74.81 L318.63,73.85 L320.13,72.90 L321.62,71.96 L323.12,71.03 L324.62,70.10 L326.11,69.19 L327.61,68.29 L329.10,67.41 L330.60,66.54 L332.09,65.69 L333.58,64.87 L335.07,64.07 L336.56,63.30 L338.05,62.56 L339.54,61.84 L341.04,61.14 L342.53,60.45 L344.02,59.78 L345.52,59.12 L347.01,58.48 L348.51,57.86 L350.00,57.25 L351.49,56.66 L352.99,56.08 L354.48,55.52 L355.97,54.97 L357.47,54.43 L358.96,53.92 L360.45,53.41 L361.95,52.92 L363.44,52.45 L364.93,51.99 L366.42,51.55 L367.92,51.12 L369.41,50.70 L370.90,50.30 L372.40,49.91 L373.89,49.54 L375.38,49.18 L376.88,48.84 L378.37,48.51 L379.86,48.19 L381.36,47.88 L382.85,47.59 L384.34,47.32 L385.84,47.05 L387.33,46.80 L388.82,46.56 L390.32,46.33 L391.81,46.12 L393.30,45.91 L394.80,45.72 L396.29,45.54 L397.79,45.38 L399.28,45.22 L400.77,45.07 L402.27,44.94 L403.76,44.82 L405.26,44.71 L406.75,44.60 L408.25,44.51 L409.74,44.43 L411.24,44.36 L411.48,44.35 L411.42,42.75 L411.16,42.76 L409.66,42.83 L408.15,42.92 L406.65,43.01 L405.14,43.11 L403.64,43.22 L402.13,43.35 L400.63,43.48 L399.12,43.63 L397.61,43.78 L396.11,43.95 L394.60,44.13 L393.10,44.33 L391.59,44.53 L390.08,44.75 L388.58,44.98 L387.07,45.22 L385.56,45.47 L384.06,45.74 L382.55,46.02 L381.04,46.31 L379.54,46.62 L378.03,46.94 L376.52,47.28 L375.02,47.62 L373.51,47.99 L372.00,48.36 L370.50,48.75 L368.99,49.16 L367.48,49.58 L365.98,50.01 L364.47,50.46 L362.96,50.92 L361.45,51.40 L359.95,51.89 L358.44,52.40 L356.93,52.93 L355.43,53.46 L353.92,54.02 L352.41,54.58 L350.91,55.17 L349.40,55.77 L347.89,56.38 L346.39,57.01 L344.88,57.66 L343.38,58.32 L341.87,58.99 L340.36,59.69 L338.86,60.39 L337.35,61.12 L335.84,61.87 L334.33,62.65 L332.82,63.46 L331.31,64.30 L329.80,65.15 L328.30,66.03 L326.79,66.92 L325.29,67.82 L323.78,68.74 L322.28,69.67 L320.78,70.60 L319.27,71.55 L317.77,72.50 L316.26,73.47 L314.76,74.45 L313.26,75.45 L311.75,76.46 L310.25,77.49 L308.74,78.51 L307.22,79.54 L305.71,80.58 L304.20,81.63 L302.68,82.69 L301.17,83.75 L299.65,84.83 L298.14,85.91 L296.62,87.01 L295.11,88.12 L293.59,89.24 L292.08,90.38 L290.56,91.52 L289.04,92.68 L287.53,93.85 L286.01,95.03 L284.50,96.22 L282.99,97.43 L281.49,98.66 L279.98,99.89 L278.48,101.14 L276.98,102.39 L275.48,103.65 L273.97,104.91 L272.47,106.18 L270.97,107.46 L269.47,108.75 L267.97,110.03 L266.46,111.33 L264.96,112.63 L263.46,113.93 L261.96,115.22 L260.47,116.52 L258.97,117.81 L257.47,119.09 L255.97,120.38 L254.47,121.66 L252.97,122.94 L251.47,124.22 L249.97,125.51 L248.47,126.79 L246.97,128.07 L245.47,129.36 L243.97,130.65 L242.47,131.94 L240.96,133.24 L239.46,134.54 L237.96,135.84 L236.46,137.14 L234.97,138.43 L233.47,139.72 L231.97,141.00 L230.47,142.27 L228.97,143.54 L227.48,144.81 L225.98,146.06 L224.48,147.31 L222.98,148.54 L221.49,149.77 L219.99,150.99 L218.49,152.20 L217.00,153.40 L215.50,154.59 L214.01,155.77 L212.51,156.94 L211.02,158.09 L209.52,159.23 L208.03,160.36 L206.53,161.47 L205.04,162.57 L203.54,163.65 L202.05,164.72 L200.55,165.78 L199.06,166.81 L197.57,167.83 L196.08,168.84 L194.58,169.82 L193.09,170.79 L191.60,171.74 L190.11,172.67 L188.62,173.57 L187.12,174.46 L185.63,175.33 L184.14,176.17 L182.64,177.00 L181.15,177.80 L179.66,178.59 L178.17,179.35 L176.68,180.09 L175.19,180.81 L173.70,181.51 L172.21,182.19 L170.72,182.85 L169.23,183.48 L167.74,184.09 L166.25,184.68 L164.77,185.25 L163.28,185.79 L161.79,186.32 L160.31,186.81 L158.82,187.29 L157.34,187.74 L155.86,188.17 L154.37,188.57 L152.89,188.95 L151.40,189.31 L149.92,189.64 L148.44,189.96 L146.95,190.25 L145.47,190.53 L143.98,190.78 L142.50,191.01 L141.01,191.23 L139.53,191.42 L138.04,191.61 L136.56,191.77 L135.07,191.92 L133.59,192.06 L132.10,192.18 L130.61,192.28 L129.12,192.37 L127.63,192.45 L126.14,192.52 L124.65,192.58 L123.16,192.63 L121.67,192.67 L120.17,192.70 L118.68,192.73 L117.18,192.74 L115.69,192.76 L114.19,192.77 L112.69,192.78 L111.20,192.78 L109.70,192.78 L108.20,192.78 L106.70,192.78 L105.20,192.77 L103.71,192.77 L102.21,192.76 L100.71,192.76 L99.21,192.75 L97.71,192.74 L96.21,192.73 L94.71,192.73 Z" fill="#000"/>
</g>
<path d="M114.3,27 H157.1" stroke="#000" stroke-width="2.5" fill="none"/>
<rect x="114.3" y="36.9" width="42.8" height="7.6" fill="#00ff00"/>
<rect x="114.3" y="50.9" width="42.8" height="7.6" fill="#ff0000"/>
<rect x="114.3" y="64.9" width="42.8" height="7.6" fill="#0000ff"/>
<text transform="translate(167.30,31.50) scale(1.170,1)" font-size="14" text-anchor="start" >Nijm2</text>
<text transform="translate(167.30,45.50) scale(1.150,1)" font-size="14" text-anchor="start" >LO</text>
<text transform="translate(167.30,59.40) scale(1.150,1)" font-size="14" text-anchor="start" >NLO</text>
<text transform="translate(167.30,73.20) scale(1.150,1)" font-size="14" text-anchor="start" >NNLO</text>
<text transform="translate(85.00,198.70) scale(1.170,1)" font-size="14" text-anchor="end" >0</text>
<text transform="translate(85.00,169.20) scale(1.170,1)" font-size="14" text-anchor="end" >5</text>
<text transform="translate(85.00,139.70) scale(1.170,1)" font-size="14" text-anchor="end" >10</text>
<text transform="translate(85.00,110.20) scale(1.170,1)" font-size="14" text-anchor="end" >15</text>
<text transform="translate(85.00,80.70) scale(1.170,1)" font-size="14" text-anchor="end" >20</text>
<text transform="translate(85.00,51.20) scale(1.170,1)" font-size="14" text-anchor="end" >25</text>
<text transform="translate(85.00,21.70) scale(1.170,1)" font-size="14" text-anchor="end" >30</text>
<text transform="translate(97.24,212.45) scale(1.170,1)" font-size="14" text-anchor="middle" >0</text>
<text transform="translate(142.37,212.45) scale(1.170,1)" font-size="14" text-anchor="middle" >50</text>
<text transform="translate(187.50,212.45) scale(1.170,1)" font-size="14" text-anchor="middle" >100</text>
<text transform="translate(232.63,212.45) scale(1.170,1)" font-size="14" text-anchor="middle" >150</text>
<text transform="translate(277.76,212.45) scale(1.170,1)" font-size="14" text-anchor="middle" >200</text>
<text transform="translate(322.89,212.45) scale(1.170,1)" font-size="14" text-anchor="middle" >250</text>
<text transform="translate(368.02,212.45) scale(1.170,1)" font-size="14" text-anchor="middle" >300</text>
<text transform="translate(413.15,212.45) scale(1.170,1)" font-size="14" text-anchor="middle" >350</text>
<text transform="translate(180.2,238.9) scale(1.170,1)" font-size="15.5">k<tspan font-size="12.2" dy="4.8">c.m.</tspan></text>
<text transform="translate(221.70,238.90) scale(1.170,1)" font-size="15.5" text-anchor="start" >[MeV]</text>
<text transform="translate(304.10,239.20) scale(1.170,1)" font-size="15.2" text-anchor="start" >(b)</text>
<text transform="translate(38.4,134.8) scale(1.170,1) rotate(-90)" font-size="16">δ</text>
<text transform="translate(38.5,123.0) scale(1.170,1) rotate(-90)" font-size="15.6">[deg]</text>
<text transform="translate(275.00,161.90) scale(1.150,1)" font-size="17" text-anchor="start" >3</text>
<text transform="translate(286.30,171.00) scale(1.180,1)" font-size="20.7" text-anchor="start" >D</text>
<text transform="translate(303.70,177.40) scale(1.150,1)" font-size="17" text-anchor="start" >2</text>

</svg>
</body></html>
